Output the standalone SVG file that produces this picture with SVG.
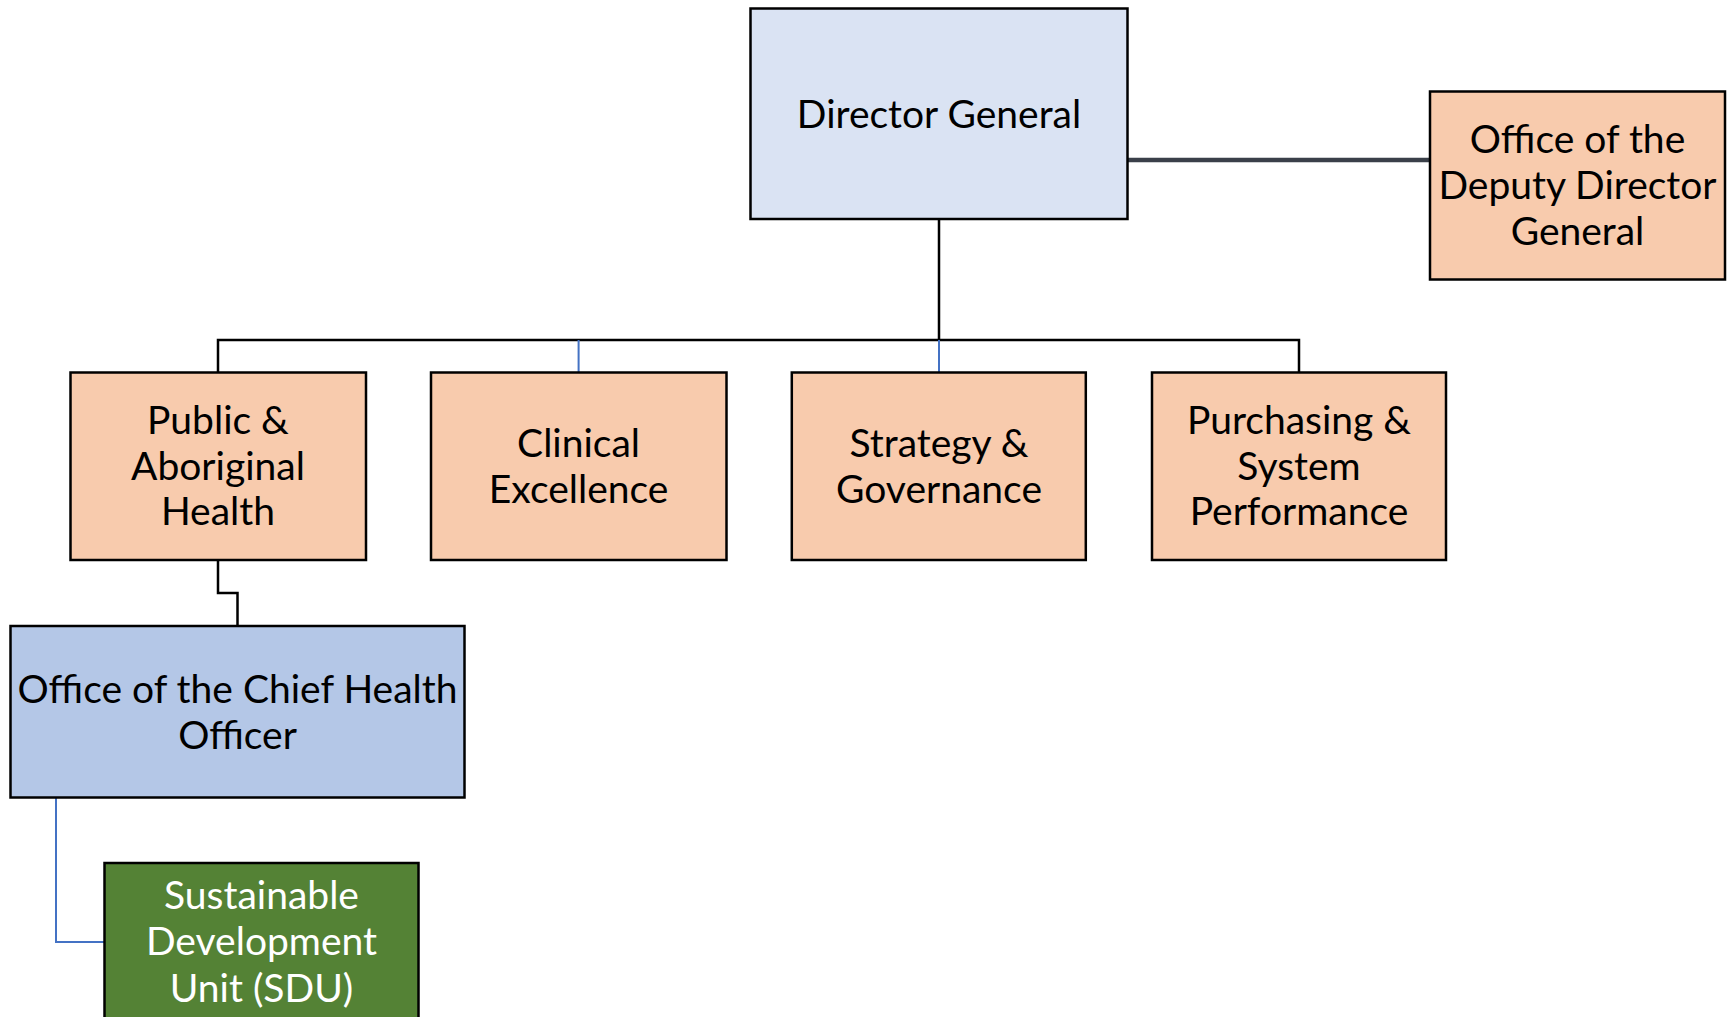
<svg xmlns="http://www.w3.org/2000/svg" width="1729" height="1017" viewBox="0 0 1729 1017">
<style>
.box{stroke:#000;stroke-width:2.5}
.peach{fill:#f8cbad}
.lt{fill:#dae3f3}
.md{fill:#b4c7e7}
.grn{fill:#548235}
.t{font-family:Lato,"Open Sans","Liberation Sans",sans-serif;font-size:39px;text-anchor:middle;fill:#000}
.w{fill:#fff}
.c{fill:none;stroke:#000;stroke-width:2.5}
.b{fill:none;stroke:#4472c4;stroke-width:2}
</style>
<rect width="1729" height="1017" fill="#fff"/>
<g id="connectors">
<path class="c" d="M939 219V340M218 372V340H1299V372"/>
<path class="b" d="M578.6 340V372M939 340V372"/>
<path d="M1127 160H1438" fill="none" stroke="#3a4049" stroke-width="4.5"/>
<path class="c" d="M218 560V593H237.5V626"/>
<path class="b" d="M56 798V942H104"/>
</g>
<g id="director-general">
<rect class="box lt" x="750.5" y="8.5" width="377" height="210.5"/>
<text class="t" x="939" y="127.5">Director General</text>
</g>
<g id="deputy-director-general">
<rect class="box peach" x="1430" y="91.5" width="295" height="188"/>
<text class="t" x="1577.5" y="152.5">Office of the</text>
<text class="t" x="1577.5" y="198.5">Deputy Director</text>
<text class="t" x="1577.5" y="244.5">General</text>
</g>
<g id="public-aboriginal-health">
<rect class="box peach" x="70.5" y="372.5" width="295.5" height="187.5"/>
<text class="t" x="218" y="433.5">Public &amp;</text>
<text class="t" x="218" y="479.5">Aboriginal</text>
<text class="t" x="218" y="525">Health</text>
</g>
<g id="clinical-excellence">
<rect class="box peach" x="431" y="372.5" width="295.5" height="187.5"/>
<text class="t" x="578.6" y="456.5">Clinical</text>
<text class="t" x="578.6" y="502.5">Excellence</text>
</g>
<g id="strategy-governance">
<rect class="box peach" x="791.8" y="372.5" width="294" height="187.5"/>
<text class="t" x="939" y="456.5">Strategy &amp;</text>
<text class="t" x="939" y="502.5">Governance</text>
</g>
<g id="purchasing-system-performance">
<rect class="box peach" x="1152" y="372.5" width="294" height="187.5"/>
<text class="t" x="1299" y="433.5">Purchasing &amp;</text>
<text class="t" x="1299" y="479.5">System</text>
<text class="t" x="1299" y="525">Performance</text>
</g>
<g id="chief-health-officer">
<rect class="box md" x="10.5" y="626" width="454" height="171.5"/>
<text class="t" x="237.5" y="702.5">Office of the Chief Health</text>
<text class="t" x="237.5" y="748.5">Officer</text>
</g>
<g id="sustainable-development-unit">
<rect class="box grn" x="104.5" y="863" width="314" height="170"/>
<text class="t w" x="261.5" y="908.5">Sustainable</text>
<text class="t w" x="261.5" y="955">Development</text>
<text class="t w" x="261.5" y="1001.5">Unit (SDU)</text>
</g>
</svg>
